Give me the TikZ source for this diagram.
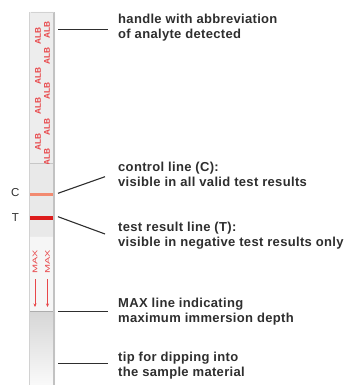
\documentclass[tikz,border=0pt]{standalone}
\usepackage{fontspec}
\setmainfont{Liberation Sans}
\usetikzlibrary{arrows.meta}
\definecolor{txt}{HTML}{2E2E2E}
\definecolor{alb}{HTML}{E8474A}
\definecolor{cline}{HTML}{F28A70}
\definecolor{tline}{HTML}{DD1C1C}
\definecolor{handlefill}{HTML}{EDEDED}
\definecolor{midfill}{HTML}{E9E9E9}
\definecolor{maxfill}{HTML}{F6F6F6}
\definecolor{edgeL}{HTML}{D2D2D2}
\definecolor{edgeR}{HTML}{C2C2C2}
\newcommand\lblfont{\fontsize{13}{14.8}\selectfont\bfseries\addfontfeature{LetterSpace=2.5}}
\begin{document}
\begin{tikzpicture}[x=1pt,y=-1pt,
  lbl/.style={anchor=north west,inner sep=0pt,align=left,text=txt,font=\lblfont},
  conn/.style={draw=txt,line width=1.1pt},
  abbr/.style={rotate=90,inner sep=0pt,text=alb,font=\fontsize{8.3}{9}\selectfont},
  maxtxt/.style={rotate=90,inner sep=0pt,text=alb,font=\fontsize{6.8}{7}\selectfont},
  ctlbl/.style={inner sep=0pt,text=txt,font=\fontsize{11.5}{12}\selectfont},
  arr/.style={draw=alb,line width=0.75pt,-{Stealth[length=3.5pt,width=3pt]}}
]
\useasboundingbox (0,0) rectangle (346,385);
% strip regions
\fill[handlefill] (29,163) -- (29,13.5) to[out=-90,in=180] (30.5,12) -- (53.5,12) to[out=0,in=-90] (55,13.5) -- (55,163) -- cycle;
\fill[midfill] (29,163) rectangle (55,236);
\fill[maxfill] (29,236) rectangle (55,311);
\shade[top color=black!16,bottom color=black!2] (29,311) rectangle (55,385);
% separator lines
\draw[black!22,line width=0.6pt] (29,163) -- (55,163);
\draw[black!8,line width=0.6pt] (29,236) -- (55,236);
\draw[black!32,line width=0.8pt] (29,311) -- (55,311);
% edges
\draw[edgeL,line width=0.9pt] (29.4,12.5) -- (29.4,385);
\draw[edgeR,line width=1.8pt] (54.1,12.5) -- (54.1,385);
\draw[edgeL,line width=0.6pt] (30.5,12.3) -- (53.5,12.3);
% ALB texts (clipped to handle)
\begin{scope}
\clip (29,12) rectangle (55,163);
\node[abbr] (a1) at (47,30) {\textbf{ALB}};
\node[abbr] (a2) at (47,56) {\textbf{ALB}};
\node[abbr] (a3) at (47,91) {\textbf{ALB}};
\node[abbr] (a4) at (47,127) {\textbf{ALB}};
\node[abbr] (a5) at (47,157) {\textbf{ALB}};
\node[abbr] (b1) at (38,36) {\textbf{ALB}};
\node[abbr] (b2) at (38,76) {\textbf{ALB}};
\node[abbr] (b3) at (38,106) {\textbf{ALB}};
\node[abbr] (b4) at (38,142) {\textbf{ALB}};
\end{scope}
% control and test lines
\draw[cline,line width=3.3pt] (29.8,194.3) -- (53.2,194.3);
\draw[tline,line width=3.8pt] (29.8,218) -- (53.2,218);
\node[ctlbl] (cl) at (15.3,192.5) {C};
\node[ctlbl] (tl) at (15.3,217.5) {T};
% MAX marks
\node[maxtxt] (m1) at (35,262) {\scalebox{1.6}[1]{MAX}};
\node[maxtxt] (m2) at (47.5,262) {\scalebox{1.6}[1]{MAX}};
\coordinate (ar1a) at (35,279);
\coordinate (ar1b) at (35,307);
\coordinate (ar2a) at (47.5,279);
\coordinate (ar2b) at (47.5,307);
\draw[arr] (ar1a) -- (ar1b);
\draw[arr] (ar2a) -- (ar2b);
% labels
\node[lbl] (lh) at (118,14) {handle with abbreviation\\of analyte detected};
\node[lbl] (lc) at (118,161.7) {control line (C):\\visible in all valid test results};
\node[lbl] (lt) at (118,221.7) {test result line (T):\\visible in negative test results only};
\node[lbl] (lm) at (118,298) {MAX line indicating\\maximum immersion depth};
\node[lbl] (lp) at (118,351.7) {tip for dipping into\\the sample material};
% connectors
\coordinate (h1) at (58,29.3);   \coordinate (h2) at (108,29.3);
\coordinate (c1) at (58,193.3);  \coordinate (c2) at (105,176.7);
\coordinate (t1) at (58,216.7);  \coordinate (t2) at (105,234);
\coordinate (x1) at (58,311.7);  \coordinate (x2) at (108,311.7);
\coordinate (p1) at (58,363.3);  \coordinate (p2) at (108,363.3);
\draw[conn] (h1) -- (h2);
\draw[conn] (c1) -- (c2);
\draw[conn] (t1) -- (t2);
\draw[conn] (x1) -- (x2);
\draw[conn] (p1) -- (p2);
\end{tikzpicture}
\end{document}
